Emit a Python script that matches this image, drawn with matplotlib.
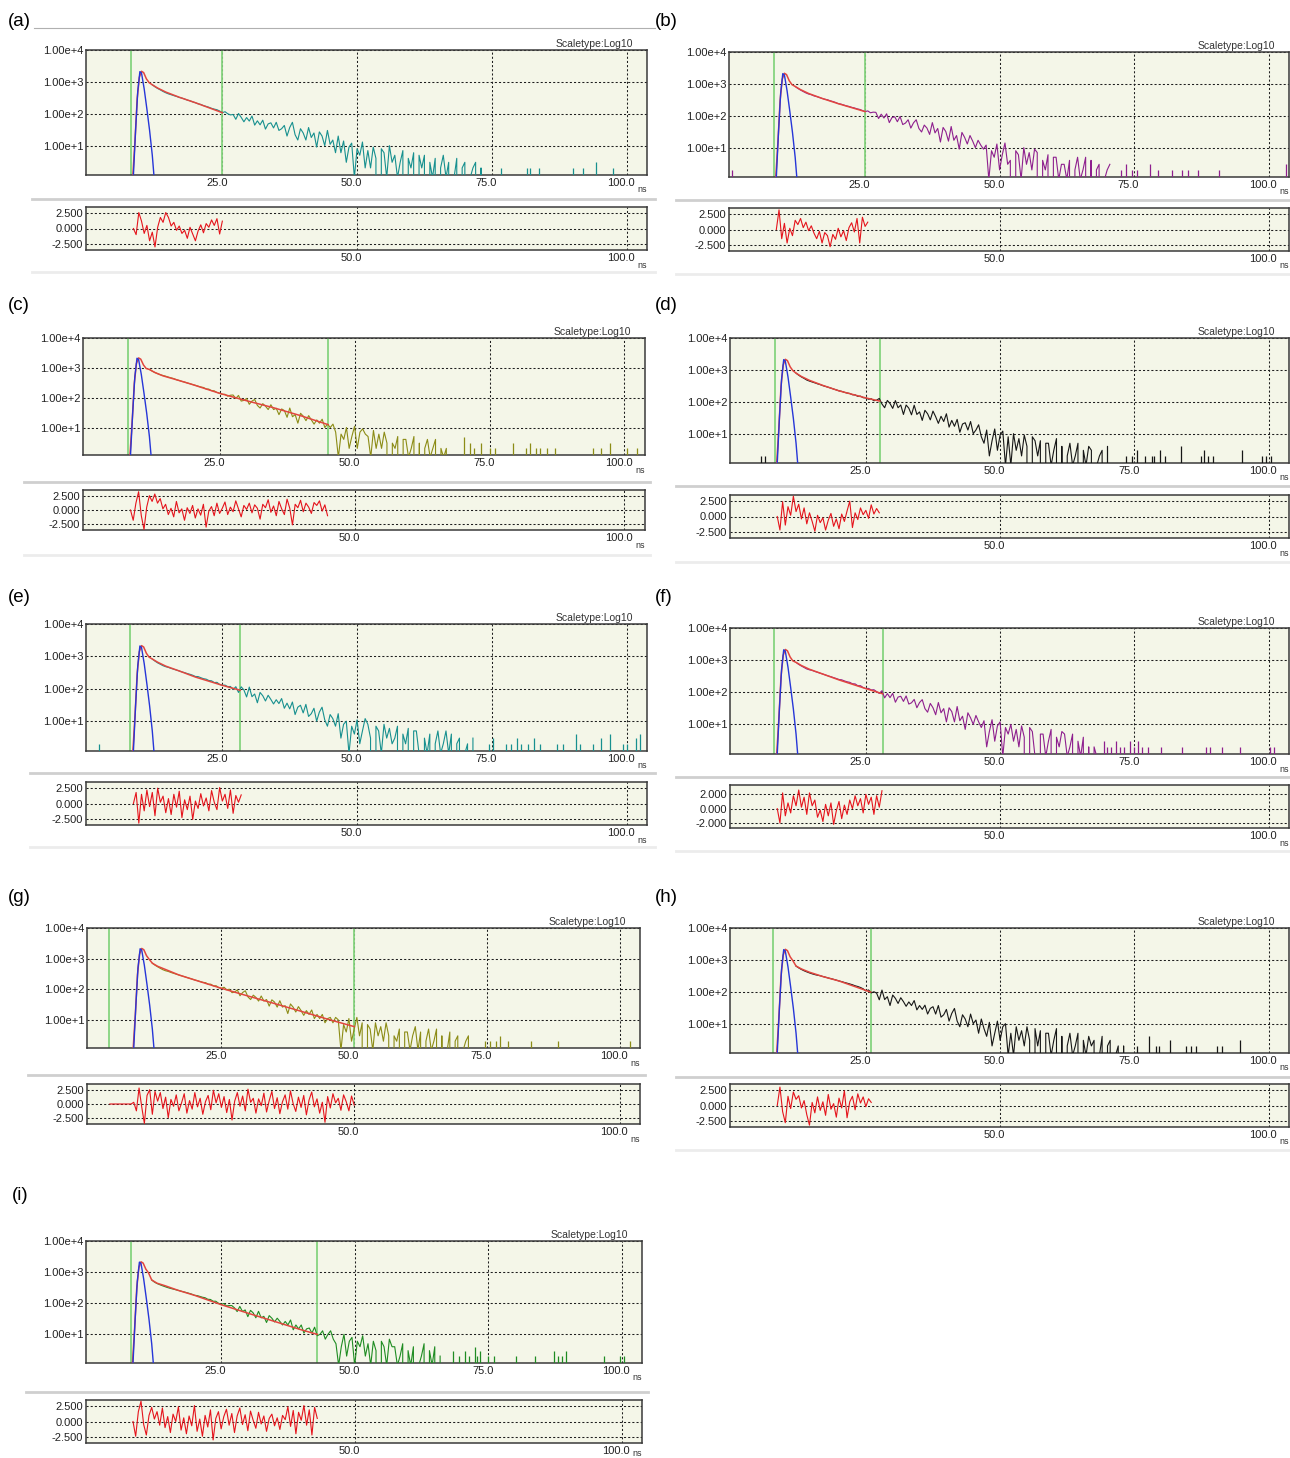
import numpy as np
import matplotlib.pyplot as plt
from matplotlib.lines import Line2D
from matplotlib.ticker import NullLocator
from matplotlib.transforms import ScaledTranslation

plt.rcParams['font.family'] = ['Liberation Sans Narrow', 'Liberation Sans', 'DejaVu Sans']

W, H = 1290, 1458
DECAY_T0 = 12.0   # first stored decay channel (ns)
STEP = 0.5        # channel spacing of the stored traces (ns)

# ---------------- data ----------------
# instrument response (blue), same lamp for all samples
irf_t = [8.5, 8.9, 9.3, 9.7, 10.0, 10.5, 11.0, 11.5, 12.0, 12.3]
irf_y = [1.2, 30, 500, 2100, 1900, 600, 140, 30, 5, 1.2]

# rising edge / peak of the fitted curve (red)
peak_t = [8.4, 8.8, 9.2, 9.6, 10.0, 10.4, 10.9, 11.4]
peak_y = [1.2, 15, 300, 1400, 2150, 1950, 1250, 950]

# fit range cursors (green lines), ns
cursor_start = [8.0, 8.0, 8.0, 8.0, 7.8, 7.9, 3.9, 7.8, 8.2]
cursor_end = [25.0, 25.0, 45.1, 27.6, 28.3, 28.1, 50.0, 25.9, 43.0]
resid_start = [8.5, 8.5, 8.5, 8.5, 8.5, 8.5, 4.0, 8.5, 8.5]

# decay counts, from 12 ns in 0.5 ns channels (one row = 5 ns)
decay_a = [810, 700, 620, 560, 500, 455, 420, 395, 370, 350,
           325, 310, 290, 268, 255, 236, 222, 205, 196, 180,
           170, 160, 148, 140, 134, 122, 108, 116, 100, 92,
           95, 67, 102, 77, 56, 76, 59, 85, 44, 60,
           45, 63, 33, 48, 52, 36, 54, 30, 34, 43,
           20, 37, 54, 22, 15, 34, 25, 15, 37, 18,
           25, 9, 27, 20, 10, 30, 11, 15, 6, 20,
           6, 14, 3, 9, 12, 1, 8, 5, 13, 2,
           7, 2, 9, 4, 0, 8, 6, 1, 10, 3,
           5, 1, 3, 7, 0, 4, 2, 6, 0, 5,
           2, 5, 0, 3, 1, 4, 0, 2, 5, 1,
           3, 0, 1, 4, 0, 2, 3, 0, 1, 2,
           3, 0, 2, 0]
decay_b = [830, 720, 640, 575, 520, 480, 457, 420, 400, 375,
           350, 330, 318, 295, 280, 262, 240, 232, 218, 205,
           196, 184, 176, 165, 158, 146, 135, 142, 124, 130,
           128, 82, 112, 85, 115, 61, 88, 93, 65, 95,
           53, 59, 75, 41, 60, 75, 40, 31, 51, 41,
           26, 61, 29, 40, 15, 43, 32, 16, 46, 17,
           24, 9, 30, 21, 13, 24, 16, 10, 17, 12,
           9, 12, 1, 8, 5, 13, 2, 6, 14, 3,
           4, 0, 8, 6, 1, 10, 3, 7, 2, 9,
           7, 0, 4, 2, 6, 0, 5, 5, 1, 3,
           3, 1, 4, 0, 2, 5, 1, 2, 5, 0,
           4, 0, 2, 3, 0, 1, 2, 3]
decay_c = [890, 780, 700, 640, 590, 555, 525, 490, 462, 438,
           400, 378, 352, 335, 312, 295, 275, 260, 244, 228,
           220, 196, 194, 172, 170, 150, 142, 128, 130, 112,
           121, 123, 94, 119, 77, 81, 94, 60, 77, 87,
           55, 45, 63, 52, 40, 58, 40, 44, 27, 42,
           37, 22, 45, 23, 27, 14, 30, 24, 17, 25,
           18, 13, 18, 14, 19, 10, 13, 10, 13, 7,
           1, 6, 4, 10, 2, 5, 11, 2, 7, 9,
           6, 5, 1, 8, 2, 6, 2, 7, 3, 0,
           3, 2, 5, 0, 4, 4, 1, 2, 5, 0,
           3, 0, 2, 4, 1, 2, 4, 0, 2, 1,
           2, 0]
decay_d = [790, 680, 600, 540, 480, 445, 417, 392, 365, 345,
           320, 302, 285, 268, 250, 236, 220, 212, 198, 188,
           182, 166, 164, 148, 150, 134, 132, 120, 124, 108,
           112, 127, 85, 65, 110, 88, 62, 109, 65, 79,
           40, 79, 63, 39, 78, 40, 48, 26, 54, 42,
           27, 51, 34, 21, 35, 24, 42, 16, 26, 17,
           28, 11, 20, 22, 13, 24, 10, 13, 19, 8,
           5, 13, 2, 6, 14, 3, 9, 12, 1, 8,
           1, 10, 3, 7, 2, 9, 4, 0, 8, 6,
           2, 6, 0, 5, 5, 1, 3, 7, 0, 4,
           0, 2, 5, 1, 2, 5, 0, 3, 1, 4,
           3, 0, 1, 2, 3, 0, 4, 0]
decay_e = [830, 715, 630, 570, 515, 480, 457, 425, 400, 378,
           355, 332, 315, 295, 280, 262, 240, 238, 220, 205,
           198, 180, 176, 156, 158, 136, 128, 130, 116, 118,
           95, 116, 77, 115, 92, 56, 113, 57, 69, 37,
           77, 61, 42, 63, 47, 34, 46, 35, 50, 25,
           36, 24, 39, 16, 27, 31, 18, 33, 14, 17,
           25, 10, 19, 27, 11, 7, 16, 12, 7, 17,
           3, 8, 10, 1, 7, 4, 11, 2, 5, 12,
           8, 3, 0, 7, 5, 1, 8, 3, 6, 2,
           3, 7, 0, 4, 2, 6, 0, 5, 5, 1,
           0, 3, 1, 4, 0, 2, 5, 1, 2, 5,
           1, 4, 0, 2, 3, 0, 1, 2, 0, 3]
decay_f = [850, 735, 655, 590, 530, 500, 479, 445, 418, 392,
           368, 345, 322, 305, 285, 268, 250, 244, 226, 212,
           204, 184, 182, 160, 160, 140, 130, 132, 118, 120,
           105, 92, 112, 67, 91, 68, 93, 49, 71, 75,
           52, 77, 43, 47, 60, 33, 48, 59, 31, 24,
           45, 33, 20, 48, 23, 31, 12, 33, 25, 12,
           36, 13, 18, 7, 23, 16, 10, 19, 12, 8,
           13, 2, 6, 14, 3, 9, 12, 1, 8, 5,
           10, 3, 7, 2, 9, 4, 0, 8, 6, 1,
           0, 5, 5, 1, 3, 7, 0, 4, 2, 6,
           5, 1, 2, 5, 0, 3, 1, 4, 0, 2,
           0, 2, 1]
decay_g = [708, 610, 540, 480, 432, 400, 380, 352, 330, 310,
           292, 274, 258, 242, 228, 214, 200, 190, 178, 168,
           164, 146, 146, 128, 130, 112, 107, 116, 96, 100,
           77, 81, 95, 61, 78, 89, 56, 46, 64, 54,
           41, 60, 41, 46, 28, 45, 38, 26, 42, 26,
           29, 16, 33, 26, 18, 27, 20, 14, 20, 15,
           21, 11, 15, 11, 15, 8, 11, 12, 8, 12,
           10, 1, 7, 4, 11, 2, 5, 12, 3, 8,
           0, 7, 5, 1, 8, 3, 6, 2, 8, 3,
           0, 3, 2, 5, 0, 4, 4, 1, 3, 6,
           1, 4, 0, 2, 5, 1, 2, 5, 0, 3,
           0, 1, 4, 0, 2, 3, 0, 1, 2, 3, 0]
decay_h = [640, 560, 500, 455, 420, 390, 365, 345, 330, 318,
           300, 286, 270, 258, 245, 232, 218, 208, 196, 186,
           176, 166, 154, 146, 136, 124, 106, 114, 92, 100,
           91, 56, 113, 57, 70, 37, 79, 62, 43, 65,
           49, 35, 48, 37, 53, 27, 37, 28, 38, 20,
           30, 34, 20, 37, 16, 19, 28, 12, 21, 30,
           12, 8, 19, 14, 8, 20, 10, 13, 5, 14,
           7, 4, 11, 2, 5, 12, 3, 8, 10, 1,
           5, 1, 8, 3, 6, 2, 8, 3, 0, 7,
           2, 6, 0, 5, 5, 1, 3, 7, 0, 4,
           0, 2, 5, 1, 2, 5, 0, 3, 1, 4,
           2, 3, 0, 1, 4, 0, 2, 3, 0, 1, 2, 0, 2, 0]
decay_i = [560, 480, 430, 395, 365, 340, 318, 300, 285, 272,
           258, 244, 232, 220, 208, 196, 180, 176, 166, 156,
           150, 134, 132, 116, 116, 100, 92, 98, 82, 84,
           84, 71, 54, 79, 54, 61, 37, 59, 49, 34,
           55, 34, 38, 24, 40, 33, 25, 33, 26, 20,
           26, 20, 29, 14, 20, 15, 20, 11, 15, 16,
           11, 17, 9, 10, 13, 7, 10, 13, 7, 5,
           1, 4, 10, 2, 6, 8, 1, 6, 4, 9,
           2, 5, 1, 6, 3, 0, 6, 4, 1, 7,
           4, 4, 1, 2, 5, 0, 3, 1, 4, 0,
           1, 2, 5, 0, 3, 1, 4, 0, 2]

# isolated single-count channels further out (time ns, counts)
spike_t_a = [76.7, 81.5, 82.1, 83.8, 90.1, 92.0, 94.4, 97.5]
spike_h_a = [2, 2, 2, 2, 2, 2, 3, 2]
spike_t_b = [0.3, 72.5, 73.5, 74.6, 75.6, 77.9, 79.4, 82.0, 83.9, 85.0, 86.9, 90.7, 103.3]
spike_h_b = [2, 2, 3, 2, 2, 3, 2, 2, 2, 2, 2, 2, 3]
spike_t_c = [70.2, 71.3, 72.1, 73.4, 75.0, 76.0, 79.4, 81.7, 82.5, 83.6, 84.4, 85.6,
             87.2, 94.2, 95.6, 97.3, 100.4, 102.4]
spike_h_c = [5, 3, 2, 3, 2, 2, 3, 2, 3, 2, 2, 2, 2, 2, 2, 3, 2, 2]
spike_t_d = [5.5, 6.3, 73.5, 74.6, 75.5, 77.0, 78.2, 78.6, 79.7, 80.8, 83.6, 87.5,
             88.0, 88.8, 89.6, 95.0, 98.8, 99.6, 100.5]
spike_h_d = [2, 2, 2, 2, 3, 2, 2, 2, 3, 2, 4, 2, 3, 2, 2, 3, 2, 2, 2]
spike_t_e = [2.1, 74.5, 75.2, 77.7, 78.6, 79.7, 80.5, 81.7, 82.9, 84.0, 87.1, 88.3,
             90.6, 91.4, 93.7, 95.3, 97.0, 99.3, 100.1, 101.7, 102.5]
spike_h_e = [2, 2, 3, 2, 2, 3, 2, 2, 3, 2, 2, 2, 4, 2, 2, 3, 4, 2, 2, 3, 4]
spike_t_f = [69.3, 70.0, 70.6, 71.5, 72.3, 73.0, 74.2, 75.0, 75.6, 76.4, 77.5, 80.0,
             83.8, 88.3, 89.0, 91.3, 94.7, 100.2, 101.0]
spike_h_f = [3, 2, 2, 3, 2, 2, 3, 2, 3, 2, 2, 2, 2, 2, 2, 2, 2, 2, 2]
spike_t_g = [74.6, 75.5, 76.6, 77.5, 79.0, 83.3, 88.3, 102.0]
spike_h_g = [2, 2, 2, 3, 2, 2, 2, 2]
spike_t_h = [75.5, 77.7, 79.0, 79.6, 81.7, 84.7, 85.6, 86.5, 90.3, 91.4, 94.7]
spike_h_h = [2, 4, 2, 2, 3, 2, 2, 2, 2, 2, 3]
spike_t_i = [68.4, 69.5, 70.6, 71.4, 72.5, 73.0, 73.5, 75.0, 76.0, 80.3, 83.7,
             87.3, 88.1, 88.9, 89.6, 96.6, 99.6, 100.4]
spike_h_i = [3, 2, 3, 2, 4, 2, 3, 2, 2, 2, 2, 3, 2, 2, 3, 2, 2, 2]

# fitted curve after the peak (time ns, counts)
fit_t_a = peak_t + [12.0, 13.0, 14.5, 17.0, 20.0, 25.0]
fit_y_a = peak_y + [810, 640, 480, 330, 222, 108]
fit_t_b = peak_t + [12.0, 13.0, 14.5, 17.0, 20.0, 25.0]
fit_y_b = peak_y + [830, 660, 500, 350, 240, 135]
fit_t_c = peak_t + [12.0, 13.0, 14.5, 17.0, 20.0, 25.0, 30.0, 35.0, 40.0, 45.1]
fit_y_c = peak_y + [880, 700, 540, 400, 275, 140, 79, 46, 25, 12.5]
fit_t_d = peak_t + [12.0, 13.0, 14.5, 17.0, 20.0, 25.0, 27.6]
fit_y_d = peak_y + [790, 620, 470, 325, 220, 132, 105]
fit_t_e = peak_t + [12.0, 13.0, 14.5, 17.0, 20.0, 25.0, 28.3]
fit_y_e = peak_y + [830, 660, 500, 355, 230, 128, 90]
fit_t_f = peak_t + [12.0, 13.0, 14.5, 17.0, 20.0, 25.0, 28.1]
fit_y_f = peak_y + [850, 680, 520, 368, 242, 130, 90]
fit_t_g = peak_t + [12.0, 13.0, 14.5, 17.0, 20.0, 25.0, 30.0, 35.0, 40.0, 45.0, 50.0]
fit_y_g = peak_y + [708, 560, 440, 292, 200, 107, 60, 34, 19, 10.5, 6]
fit_t_h = peak_t + [12.0, 13.0, 14.5, 17.0, 20.0, 25.0, 25.9]
fit_y_h = peak_y + [640, 520, 410, 300, 218, 110, 98]
fit_t_i = peak_t + [12.0, 13.0, 14.5, 17.0, 20.0, 25.0, 30.0, 35.0, 40.0, 43.0]
fit_y_i = peak_y + [560, 440, 365, 258, 180, 90, 48, 26, 14, 10]

# weighted residuals, 0.5 ns channels from resid_start
resid_a = [0.0, -1.0, 2.6, 1.2, -0.8, 0.5, -2.0, -0.6, -3.0, 0.2,
           1.8, 1.0, 2.6, 1.8, 0.4, 1.0, -0.3, 0.4, -0.8, -0.3,
           -1.6, 0.2, -0.9, -2.0, -0.4, 0.6, -0.7, 0.8, 0.2, 1.4,
           0.5, 1.6, -0.9, 1.2]
resid_b = [0.0, 3.2, -1.5, 1.0, -2.2, 0.2, -1.0, 1.5, 0.8, 1.8,
           0.3, 1.2, -0.2, 0.6, -0.6, -1.5, -0.3, -2.2, -0.5, -1.0,
           -2.8, -0.8, -1.6, 0.2, -1.2, -0.2, -1.8, 0.3, 1.1, -0.4,
           1.8, -2.2, 2.0, 0.5, 1.2]
resid_c = [0.0, -1.8, 1.2, 3.2, -1.0, -3.4, 0.5, 2.5, 1.5, 2.8,
           1.2, 2.0, 0.2, 1.0, -0.8, 0.3, -1.2, 1.5, -0.5, 0.2,
           -1.8, 0.4, -0.6, 0.8, -1.4, 0.2, -0.9, 1.0, -3.0, -0.2,
           0.6, -1.0, 1.2, -0.6, 0.3, 1.4, -0.8, 0.5, -0.3, 1.6,
           0.2, -1.2, 0.8, 0.1, 1.2, -0.5, 0.9, 0.3, -1.6, 1.0,
           0.4, 1.8, -0.4, 0.7, -1.0, 1.5, 0.2, -0.8, 1.9, 0.3,
           -2.6, 1.0, 0.4, 1.7, -0.3, 1.2, 0.5, -0.6, 1.3, 0.8,
           1.6, -0.2, 0.9, -1.0]
resid_d = [0.0, -2.2, 2.4, -1.4, 1.6, 0.2, 3.3, 0.8, 2.0, -0.4,
           1.4, -1.2, 0.6, -0.8, -2.4, 0.2, -1.0, -0.2, -2.2, -0.6,
           0.5, -1.6, -0.4, -2.0, 0.4, -0.8, 0.9, 2.5, -1.8, 0.6,
           -0.5, 1.4, 0.3, 1.0, -0.3, 1.9, 0.4, 1.3, 0.6]
resid_e = [0.0, 1.8, -3.2, 1.5, -1.2, 2.2, -0.5, 1.8, -2.0, 2.5,
           0.2, 1.2, -1.5, 0.8, -1.8, 1.5, -0.6, 2.0, -2.3, 0.6,
           -1.0, 1.2, -2.6, 0.4, -0.8, 1.6, -0.4, 0.9, -1.2, 2.1,
           0.2, -1.0, 2.6, 0.4, 1.5, -0.8, 2.2, -1.6, 1.3, 0.2,
           1.4]
resid_f = [0.0, -2.0, 2.2, -1.0, 0.8, -0.6, 1.8, 0.4, 2.6, 0.2,
           1.6, -0.8, 2.2, 0.4, 1.2, -1.2, -0.2, -1.8, 0.6, -1.0,
           0.8, -2.2, -0.3, 1.0, -1.4, 0.5, -0.8, 1.2, 0.0, 1.8,
           0.4, 1.4, -0.6, 2.0, 0.6, 1.6, -0.8, 1.8, 0.2, 2.5]
resid_g = [0.0, 0.0, 0.0, 0.0, 0.0, 0.0, 0.0, 0.0, 0.0,
           0.3, -1.2, 2.8, -0.5, -3.4, 1.5, 2.5, -1.8, 2.2, 0.5,
           2.0, -0.8, 1.2, -2.4, 0.8, -0.4, 1.6, -1.2, 0.2, 1.8,
           -1.6, 0.6, -0.9, 2.0, -0.5, 1.0, -1.8, 0.4, 1.5, -1.0,
           2.4, 0.2, 1.8, -0.6, 1.3, -1.5, 0.8, -2.8, 0.5, 2.0,
           -0.4, 1.4, -1.2, 2.6, 0.3, 1.0, -1.6, 0.9, -0.3, 1.9,
           -1.4, 0.6, 2.2, -0.8, 1.1, -1.7, 0.4, 1.6, -0.9, 2.3,
           0.1, -1.3, 1.2, -0.6, 1.5, -1.9, 0.7, 2.1, -0.5, 0.9,
           -1.6, 0.3, -3.2, 1.3, -0.7, 1.8, 0.2, 1.0, -1.1, 1.6,
           0.4, -1.2, 1.4, -0.2]
resid_h = [0.0, 3.0, -1.0, -2.8, 1.5, -0.5, 2.2, 1.0, 1.6, -0.4,
           0.8, -1.5, -3.2, 0.5, -1.2, 1.4, -0.8, 0.6, -1.6, 1.8,
           -0.6, 0.3, -1.9, 1.2, -0.4, 2.4, -2.0, 0.6, 1.5, -0.7,
           1.9, 0.4, 1.4, -0.2, 1.1, 0.5]
resid_i = [0.0, -2.4, 1.6, 3.3, -0.5, -2.2, 1.0, 2.3, 0.4, 1.6,
           -0.6, 2.2, -1.0, 0.8, -1.8, 1.2, 0.0, 2.4, -1.4, 0.6,
           -2.0, 0.9, -0.7, 2.6, -1.6, 0.4, -2.4, 1.0, -0.9, 1.9,
           -3.0, 0.5, 1.6, -1.2, 0.8, 2.0, -0.6, 1.3, -1.8, 0.9,
           2.2, -0.5, 1.1, -1.5, 1.7, 0.2, -1.1, 1.5, -0.4, 0.9,
           -1.6, 0.5, 1.2, -0.7, 0.6, -1.3, 1.0, 0.3, 2.4, -0.8,
           1.8, -2.0, 1.5, 0.2, 2.6, -0.6, 1.9, -2.2, 2.3, 0.5]

resid_ticks = [[2.5, 0.0, -2.5]] * 5 + [[2.0, 0.0, -2.0]] + [[2.5, 0.0, -2.5]] * 3
resid_ticklabels = [['2.500', '0.000', '-2.500']] * 5 + [['2.000', '0.000', '-2.000']] + \
                   [['2.500', '0.000', '-2.500']] * 3
resid_lim = [(-3.5, 3.5)] * 5 + [(-2.7, 3.3)] + [(-3.5, 3.5)] * 3

letters = ['a', 'b', 'c', 'd', 'e', 'f', 'g', 'h', 'i']
decays = [decay_a, decay_b, decay_c, decay_d, decay_e, decay_f, decay_g, decay_h, decay_i]
spikes_t = [spike_t_a, spike_t_b, spike_t_c, spike_t_d, spike_t_e, spike_t_f, spike_t_g, spike_t_h, spike_t_i]
spikes_h = [spike_h_a, spike_h_b, spike_h_c, spike_h_d, spike_h_e, spike_h_f, spike_h_g, spike_h_h, spike_h_i]
fits_t = [fit_t_a, fit_t_b, fit_t_c, fit_t_d, fit_t_e, fit_t_f, fit_t_g, fit_t_h, fit_t_i]
fits_y = [fit_y_a, fit_y_b, fit_y_c, fit_y_d, fit_y_e, fit_y_f, fit_y_g, fit_y_h, fit_y_i]
resids = [resid_a, resid_b, resid_c, resid_d, resid_e, resid_f, resid_g, resid_h, resid_i]

# ---------------- style / layout ----------------
decay_colors = ['#17908f', '#8e1f8e', '#8c8c16', '#161616', '#17908f',
                '#8e1f8e', '#8c8c16', '#161616', '#1f8c22']
BG = '#f4f6e8'
FIT_RED = '#e2463f'
RES_RED = '#e5141c'
IRF_BLUE = '#2636d8'
CURSOR = '#86d47f'

# pixel boxes (left, top, right, bottom)
layout = {
    'a': dict(main=(86, 50, 647, 175), res=(86, 207, 647, 250), label=(8, 21), sep=199, foot=272, span=(32, 655)),
    'b': dict(main=(729, 52, 1289, 177), res=(729, 208, 1289, 251), label=(655, 21), sep=200, foot=274, span=(676, 1290)),
    'c': dict(main=(83, 338, 645, 455), res=(83, 490, 645, 530), label=(8, 305), sep=482, foot=555, span=(24, 650)),
    'd': dict(main=(730, 338, 1289, 463), res=(730, 495, 1289, 538), label=(655, 305), sep=486, foot=562, span=(676, 1290)),
    'e': dict(main=(86, 624, 647, 751), res=(86, 782, 647, 825), label=(8, 597), sep=773, foot=847, span=(30, 655)),
    'f': dict(main=(730, 628, 1289, 754), res=(730, 785, 1289, 828), label=(655, 597), sep=777, foot=851, span=(676, 1290)),
    'g': dict(main=(87, 928, 640, 1048), res=(87, 1084, 640, 1124), label=(8, 897), sep=1075, foot=None, span=(28, 645)),
    'h': dict(main=(730, 928, 1289, 1053), res=(730, 1084, 1289, 1127), label=(655, 897), sep=1077, foot=1150, span=(676, 1290)),
    'i': dict(main=(86, 1241, 642, 1363), res=(86, 1400, 642, 1443), label=(12, 1196), sep=1392, foot=None, span=(26, 648)),
}

XLIM = (-0.3, 103.8)
TICK_FS = 8


def px_axes(fig, box):
    l, t, r, b = box
    return fig.add_axes([l / W, 1 - b / H, (r - l) / W, (b - t) / H])


def hline(fig, y, x0, x1, color, lw):
    fig.add_artist(Line2D([x0 / W, x1 / W], [1 - y / H, 1 - y / H], color=color, lw=lw))


def ns_label(fig, r, b):
    y = min(b + 15, H - 5)
    fig.text((r - 5) / W, 1 - y / H, 'ns', ha='center', va='center', fontsize=6.5, color='#333333')


def style_box(ax, fig):
    ax.set_facecolor(BG)
    for s in ax.spines.values():
        s.set_color('#3a3a3a')
        s.set_linewidth(1.1)
    ax.tick_params(length=0, labelsize=TICK_FS, colors='#222222', pad=2)
    ax.grid(True, color='#1e1e1e', linestyle=(0, (2, 2)), linewidth=0.75)
    ax.set_xlim(*XLIM)
    shift = ScaledTranslation(-4 / 72, 0, fig.dpi_scale_trans)
    for lbl in ax.get_xticklabels():
        lbl.set_transform(lbl.get_transform() + shift)


fig = plt.figure(figsize=(W / 100, H / 100), dpi=100)
fig.patch.set_facecolor('white')

for k, key in enumerate(letters):
    lay = layout[key]

    # decorations around the panel
    if key == 'a':
        hline(fig, 28, 34, 655, '#b0b0b0', 0.8)
    hline(fig, lay['sep'], lay['span'][0], lay['span'][1], '#cfcfcf', 2.0)
    if lay['foot'] is not None:
        hline(fig, lay['foot'], lay['span'][0], lay['span'][1], '#ececec', 2.0)
    fig.text(lay['label'][0] / W, 1 - lay['label'][1] / H, '(%s)' % key,
             family=['Liberation Sans', 'DejaVu Sans'], fontsize=13.5, va='center', ha='left')

    # ---- decay panel ----
    ax = px_axes(fig, lay['main'])
    ax.set_yscale('log', nonpositive='clip')
    ax.set_ylim(1.2, 1e4)
    ax.yaxis.set_minor_locator(NullLocator())
    ax.set_yticks([10, 100, 1000, 10000])
    ax.set_yticklabels(['1.00e+1', '1.00e+2', '1.00e+3', '1.00e+4'])
    ax.set_xticks([25, 50, 75, 100])
    ax.set_xticklabels(['25.0', '50.0', '75.0', '100.0'])
    style_box(ax, fig)

    d = np.array(decays[k], dtype=float)
    td = DECAY_T0 + STEP * np.arange(len(d))
    col = decay_colors[k]
    ax.plot(td, d, color=col, lw=0.8, zorder=3)
    ax.vlines(spikes_t[k], 1e-3, spikes_h[k], color=col, lw=0.9, zorder=3)
    ax.axvline(cursor_start[k], color=CURSOR, lw=1.3, zorder=2.5)
    ax.axvline(cursor_end[k], color=CURSOR, lw=1.3, zorder=2.5)
    ax.plot(fits_t[k], fits_y[k], color=FIT_RED, lw=1.1, zorder=4)
    ax.plot(irf_t, irf_y, color=IRF_BLUE, lw=1.0, zorder=5)

    l, t, r, b = lay['main']
    fig.text((r - 14) / W, 1 - (t - 1) / H, 'Scaletype:Log10', ha='right', va='bottom',
             fontsize=7.5, color='#333333')
    ns_label(fig, r, b)

    # ---- residual panel ----
    rx = px_axes(fig, lay['res'])
    rv = np.array(resids[k])
    tr = resid_start[k] + STEP * np.arange(len(rv))
    rx.set_ylim(*resid_lim[k])
    rx.set_yticks(resid_ticks[k])
    rx.set_yticklabels(resid_ticklabels[k])
    rx.set_xticks([50, 100])
    rx.set_xticklabels(['50.0', '100.0'])
    style_box(rx, fig)
    rx.plot(tr, rv, color=RES_RED, lw=0.8, zorder=3)
    l, t, r, b = lay['res']
    ns_label(fig, r, b)

fig.savefig('out.png', dpi=100, facecolor='white')
